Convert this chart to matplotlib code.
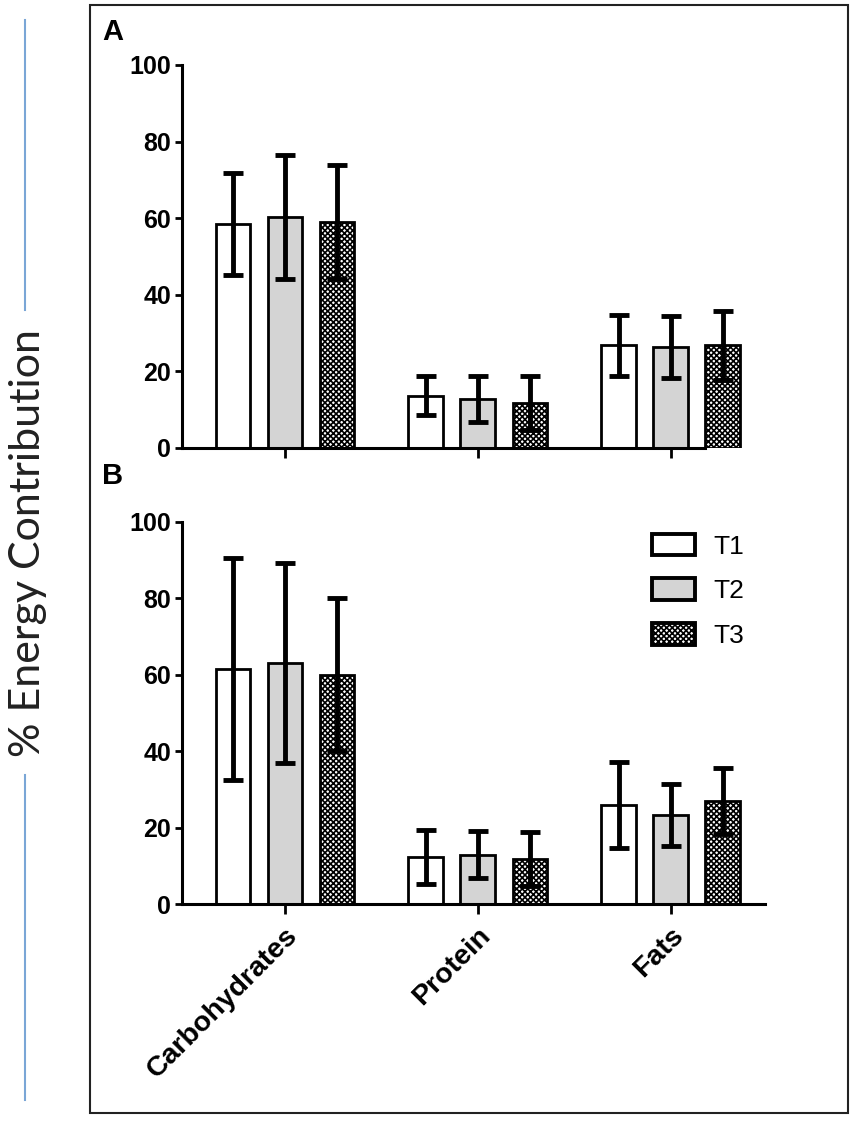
import matplotlib
matplotlib.use('Agg')
import matplotlib.pyplot as plt
from matplotlib.patches import Rectangle
from matplotlib.lines import Line2D
import numpy as np

categories = ['Carbohydrates', 'Protein', 'Fats']
series = ['T1', 'T2', 'T3']

# panel A means and SD
a_t1 = [58.5, 13.7, 26.8]
a_t2 = [60.3, 12.8, 26.3]
a_t3 = [59.0, 11.8, 26.8]
a_t1_sd = [13.2, 5.0, 8.0]
a_t2_sd = [16.2, 6.1, 8.1]
a_t3_sd = [15.0, 7.0, 9.0]

# panel B means and SD
b_t1 = [61.5, 12.3, 25.9]
b_t2 = [63.0, 12.9, 23.4]
b_t3 = [60.0, 11.8, 27.0]
b_t1_sd = [29.0, 7.0, 11.2]
b_t2_sd = [26.2, 6.1, 8.1]
b_t3_sd = [20.0, 7.0, 8.7]

yticks = [0, 20, 40, 60, 80, 100]

plt.rcParams['hatch.linewidth'] = 1.2
plt.rcParams['font.family'] = ['Liberation Sans', 'DejaVu Sans']

fills = ['white', '#d4d4d4', 'white']
hatches = [None, None, 'xxxxxx']

fig = plt.figure(figsize=(8.51, 11.21), dpi=100)

W, H = 851.0, 1121.0
ax_left = 182 / W
ax_width = (765 - 182) / W
axA = fig.add_axes([ax_left, 1 - 448 / H, ax_width, 383 / H])
axB = fig.add_axes([ax_left, 1 - 904 / H, ax_width, 382 / H])

x = np.arange(len(categories))
offs = [-0.27, 0.0, 0.27]
bw = 0.18

def draw_panel(ax, vals, sds, axis_end):
    for i, (v, s) in enumerate(zip(vals, sds)):
        ax.bar(x + offs[i], v, width=bw, color=fills[i], edgecolor='black',
               linewidth=2.0, hatch=hatches[i], label=series[i], zorder=2)
        ax.errorbar(x + offs[i], v, yerr=s, fmt='none', ecolor='black',
                    elinewidth=3.5, capsize=7.5, capthick=3.5, zorder=3)
    ax.set_xlim(-0.535, 2.49)
    ax.set_ylim(0, 100)
    ax.set_yticks(yticks)
    ax.set_xticks(x)
    for side in ['top', 'right']:
        ax.spines[side].set_visible(False)
    for side in ['left', 'bottom']:
        ax.spines[side].set_linewidth(2.2)
    ax.spines['bottom'].set_bounds(-0.535, axis_end)
    ax.tick_params(axis='y', direction='out', length=5, width=2, pad=3)
    ax.tick_params(axis='x', direction='out', length=7, width=2)
    for lab in ax.get_yticklabels():
        lab.set_fontweight('bold')
        lab.set_fontsize(18)

draw_panel(axA, [a_t1, a_t2, a_t3], [a_t1_sd, a_t2_sd, a_t3_sd], 2.18)
draw_panel(axB, [b_t1, b_t2, b_t3], [b_t1_sd, b_t2_sd, b_t3_sd], 2.49)

axA.set_xticklabels([])
axB.set_xticklabels(categories, rotation=45, ha='right', va='top',
                    rotation_mode='anchor', fontweight='bold', fontsize=20.5)
axB.tick_params(axis='x', pad=6)

leg = axB.legend(loc='upper left', bbox_to_anchor=(0.775, 1.018), frameon=False,
                 handlelength=1.6, handleheight=0.9, handletextpad=0.7,
                 labelspacing=0.74, borderpad=0.2, prop={'size': 19})
for h in leg.legend_handles:
    h.set_linewidth(2.8)

# panel letters
fig.text(102 / W, 1 - 40 / H, 'A', fontsize=21, fontweight='bold')
fig.text(102 / W, 1 - 484 / H, 'B', fontsize=21, fontweight='bold')

# outer frame
fig.patches.append(Rectangle((90 / W, 1 - 1113 / H), (848 - 90) / W, (1113 - 5) / H,
                             transform=fig.transFigure, fill=False,
                             edgecolor='#222222', linewidth=1.5))

# side label with blue rules
blue = '#7aa6d6'
fig.lines.append(Line2D([25 / W, 25 / W], [1 - 20 / H, 1 - 310 / H],
                        transform=fig.transFigure, color=blue, linewidth=1.5))
fig.lines.append(Line2D([25 / W, 25 / W], [1 - 775 / H, 1 - 1100 / H],
                        transform=fig.transFigure, color=blue, linewidth=1.5))
fig.text(28 / W, 1 - 543 / H, '% Energy Contribution', rotation=90,
         ha='center', va='center', fontsize=31, family=['Lato', 'DejaVu Sans'],
         color='#222222')

fig.savefig('out.png', dpi=100)
